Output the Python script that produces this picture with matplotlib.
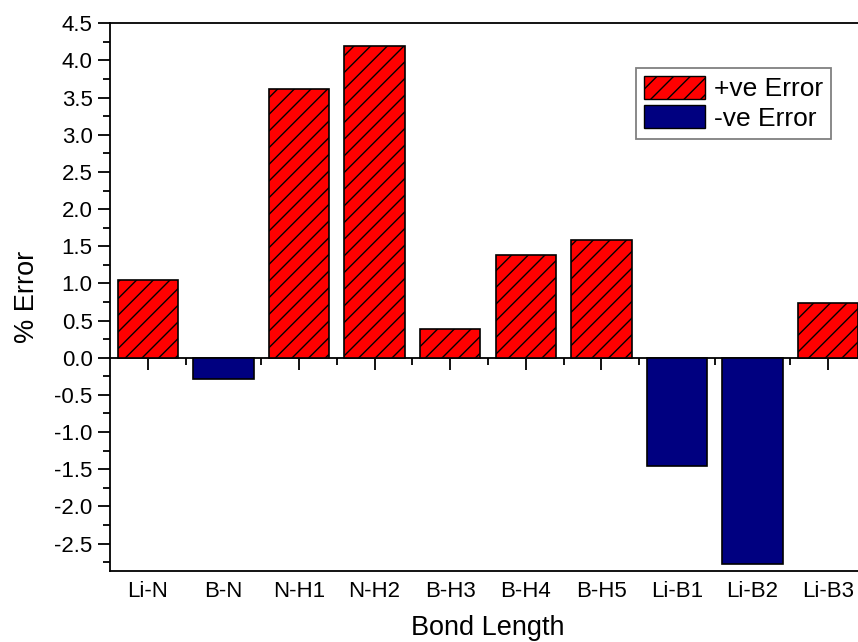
import matplotlib
matplotlib.use("Agg")
import matplotlib.pyplot as plt
from matplotlib.patches import Patch
from matplotlib.ticker import MultipleLocator

plt.rcParams['font.family'] = ['Liberation Sans', 'DejaVu Sans']
plt.rcParams['hatch.linewidth'] = 1.0

#---------------------Data----------------------------
bonds = ['Li-N', 'B-N', 'N-H1', 'N-H2', 'B-H3', 'B-H4', 'B-H5', 'Li-B1', 'Li-B2', 'Li-B3']
errors = [1.04, -0.29, 3.61, 4.19, 0.38, 1.38, 1.59, -1.46, -2.78, 0.74]

pos_color = '#ff0000'
neg_color = '#000080'

#---------------------Figure--------------------------
fig = plt.figure(figsize=(8.58, 6.42), dpi=100)
# the right edge of the frame is cut off in the original, so the axes run past the figure
ax = fig.add_axes([110 / 858, 1 - 571 / 642, 756 / 858, (571 - 23.3) / 642])

x = list(range(len(bonds)))
for xi, e in zip(x, errors):
    if e >= 0:
        ax.bar(xi, e, width=0.8, color=pos_color, edgecolor='black', linewidth=1.2, hatch='//')
    else:
        ax.bar(xi, e, width=0.8, color=neg_color, edgecolor='black', linewidth=1.2)

ymin, ymax = -2.87, 4.5
ax.set_xlim(-0.5, 9.5)
ax.set_ylim(ymin, ymax)

# y axis
ax.yaxis.set_minor_locator(MultipleLocator(0.25))
ax.set_yticks([v / 2 for v in range(-5, 10)])
ax.set_yticklabels(['%.1f' % (v / 2) for v in range(-5, 10)])
ax.tick_params(axis='y', which='major', direction='out', length=8.5, width=1.3, labelsize=16, pad=4)
ax.tick_params(axis='y', which='minor', direction='out', length=5, width=1.3)

# bottom: labels only, no ticks
ax.set_xticks(x)
ax.set_xticklabels(bonds)
ax.tick_params(axis='x', which='both', length=0, labelsize=16, pad=7)

for s in ['left', 'bottom', 'top']:
    ax.spines[s].set_linewidth(1.3)
ax.spines['right'].set_visible(False)

# zero line with ticks (Origin style axis at y = 0)
zero_frac = (0 - ymin) / (ymax - ymin)
zax = ax.secondary_xaxis(zero_frac)
zax.set_xticks(x)
zax.xaxis.set_ticks_position('bottom')
zax.set_xticks([i + 0.5 for i in x[:-1]], minor=True)
zax.tick_params(which='major', direction='out', length=8.5, width=1.3, labelbottom=False, labeltop=False)
zax.tick_params(which='minor', direction='out', length=5, width=1.3)
zax.spines['bottom'].set_linewidth(1.3)
zax.spines['top'].set_linewidth(1.3)

ax.set_xlabel('Bond Length', fontsize=19.5, labelpad=9.5)
ax.set_ylabel('% Error', fontsize=19.5, labelpad=10)

handles = [Patch(facecolor=pos_color, edgecolor='black', hatch='//', label='+ve Error'),
           Patch(facecolor=neg_color, edgecolor='black', label='-ve Error')]
leg = ax.legend(handles=handles, loc='upper left', bbox_to_anchor=(636 / 858, 1 - 68 / 642),
                bbox_transform=fig.transFigure, fontsize=19, fancybox=False, framealpha=1,
                handlelength=2.3, handleheight=0.95, handletextpad=0.35, labelspacing=0.15,
                borderpad=0.3, borderaxespad=0)
leg.get_frame().set_edgecolor('#808080')
leg.get_frame().set_linewidth(1.3)

fig.savefig('out.png', dpi=100)
